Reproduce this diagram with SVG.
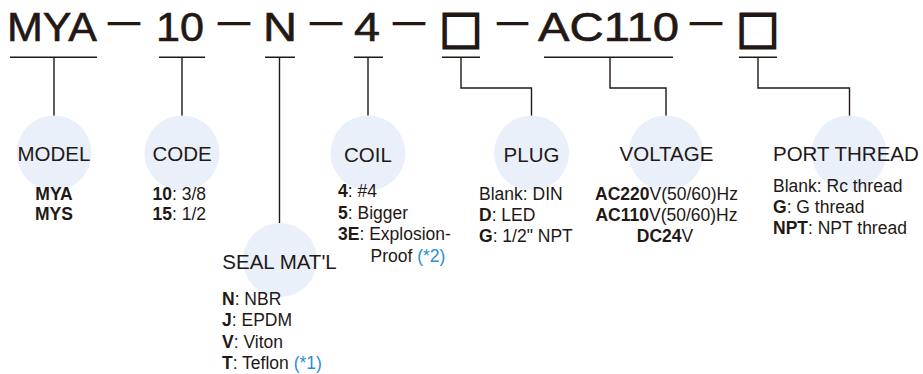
<svg xmlns="http://www.w3.org/2000/svg" width="923" height="374" viewBox="0 0 923 374">
<style>
.code{font-family:"Liberation Sans",Arial,sans-serif;font-size:40.5px;fill:#231815;stroke:#231815;stroke-width:0.6px}
.dash{font-family:"Liberation Sans",Arial,sans-serif;font-size:20px;fill:#231815;stroke:#231815;stroke-width:1.8px}
.box{font-family:"DejaVu Sans",sans-serif;font-size:46px;fill:#231815;stroke:#231815;stroke-width:1.8px}
.bub{fill:#eaf0fa}
.ttl{font-family:"Liberation Sans",Arial,sans-serif;font-size:20.5px;fill:#231815}
.lst{font-family:"Liberation Sans",Arial,sans-serif;font-size:17.5px;fill:#231815}
.b{font-weight:bold}
.note{fill:#2a8fd6}
.ln{fill:none;stroke:#231815;stroke-width:1.4}
</style>
<g id="code-string">
<text class="code" x="7" y="41" textLength="90" lengthAdjust="spacingAndGlyphs">MYA</text>
<text class="dash" x="109" y="29" textLength="30" lengthAdjust="spacingAndGlyphs">—</text>
<text class="code" x="156" y="41" textLength="48" lengthAdjust="spacingAndGlyphs">10</text>
<text class="dash" x="219" y="29" textLength="30" lengthAdjust="spacingAndGlyphs">—</text>
<text class="code" x="263" y="41" textLength="34" lengthAdjust="spacingAndGlyphs">N</text>
<text class="dash" x="311" y="29" textLength="30" lengthAdjust="spacingAndGlyphs">—</text>
<text class="code" x="354" y="41" textLength="26" lengthAdjust="spacingAndGlyphs">4</text>
<text class="dash" x="394" y="29" textLength="30" lengthAdjust="spacingAndGlyphs">—</text>
<text class="box" x="461" y="42.5" text-anchor="middle">□</text>
<text class="dash" x="498" y="29" textLength="29" lengthAdjust="spacingAndGlyphs">—</text>
<text class="code" x="538" y="41" textLength="141" lengthAdjust="spacingAndGlyphs">AC110</text>
<text class="dash" x="691" y="29" textLength="30" lengthAdjust="spacingAndGlyphs">—</text>
<text class="box" x="758" y="42.5" text-anchor="middle">□</text>
</g>
<g id="connectors">
<path class="ln" d="M10 57.3H97M54 57.3V116"/>
<path class="ln" d="M159 57.3H205M182 57.3V116"/>
<path class="ln" d="M265 57.3H295M279.5 57.3V223"/>
<path class="ln" d="M354 57.3H383M368 57.3V116"/>
<path class="ln" d="M442 57.3H480M461 57.3V88H531.5V116"/>
<path class="ln" d="M544 57.3H673M610 57.3V88H666V116"/>
<path class="ln" d="M739 57.3H777M758 57.3V88H849.5V116"/>
</g>
<g id="model">
<circle class="bub" cx="54" cy="153" r="37.5"/>
<text class="ttl" x="54" y="161" text-anchor="middle">MODEL</text>
<text class="lst b" x="54" y="200" text-anchor="middle">MYA</text>
<text class="lst b" x="54" y="220" text-anchor="middle">MYS</text>
</g>
<g id="code">
<circle class="bub" cx="182" cy="153" r="37.5"/>
<text class="ttl" x="182" y="161" text-anchor="middle">CODE</text>
<text class="lst" x="152.5" y="200"><tspan class="b">10</tspan>: 3/8</text>
<text class="lst" x="152.5" y="220"><tspan class="b">15</tspan>: 1/2</text>
</g>
<g id="seal">
<circle class="bub" cx="280" cy="260" r="37"/>
<text class="ttl" x="279.5" y="269" text-anchor="middle">SEAL MAT'L</text>
<text class="lst" x="222" y="304.5"><tspan class="b">N</tspan>: NBR</text>
<text class="lst" x="222" y="326"><tspan class="b">J</tspan>: EPDM</text>
<text class="lst" x="222" y="347.5"><tspan class="b">V</tspan>: Viton</text>
<text class="lst" x="222" y="369"><tspan class="b">T</tspan>: Teflon <tspan class="note">(*1)</tspan></text>
</g>
<g id="coil">
<circle class="bub" cx="368" cy="153" r="37.5"/>
<text class="ttl" x="368" y="162" text-anchor="middle">COIL</text>
<text class="lst" x="338" y="197"><tspan class="b">4</tspan>: #4</text>
<text class="lst" x="338" y="218.5"><tspan class="b">5</tspan>: Bigger</text>
<text class="lst" x="338" y="240"><tspan class="b">3E</tspan>: Explosion-</text>
<text class="lst" x="370.5" y="261.5">Proof <tspan class="note">(*2)</tspan></text>
</g>
<g id="plug">
<circle class="bub" cx="531.5" cy="153" r="37.5"/>
<text class="ttl" x="531.5" y="162" text-anchor="middle">PLUG</text>
<text class="lst" x="479" y="200">Blank: DIN</text>
<text class="lst" x="479" y="221"><tspan class="b">D</tspan>: LED</text>
<text class="lst" x="479" y="242"><tspan class="b">G</tspan>: 1/2" NPT</text>
</g>
<g id="voltage">
<circle class="bub" cx="666" cy="153" r="37.5"/>
<text class="ttl" x="666.5" y="161" text-anchor="middle">VOLTAGE</text>
<text class="lst" x="666.5" y="200" text-anchor="middle"><tspan class="b">AC220</tspan>V(50/60)Hz</text>
<text class="lst" x="666.5" y="221" text-anchor="middle"><tspan class="b">AC110</tspan>V(50/60)Hz</text>
<text class="lst" x="665" y="242" text-anchor="middle"><tspan class="b">DC24</tspan>V</text>
</g>
<g id="port-thread">
<circle class="bub" cx="849" cy="153" r="37.5"/>
<text class="ttl" x="773" y="161">PORT THREAD</text>
<text class="lst" x="773" y="191.5">Blank: Rc thread</text>
<text class="lst" x="773" y="212.5"><tspan class="b">G</tspan>: G thread</text>
<text class="lst" x="773" y="233.5"><tspan class="b">NPT</tspan>: NPT thread</text>
</g>
</svg>
